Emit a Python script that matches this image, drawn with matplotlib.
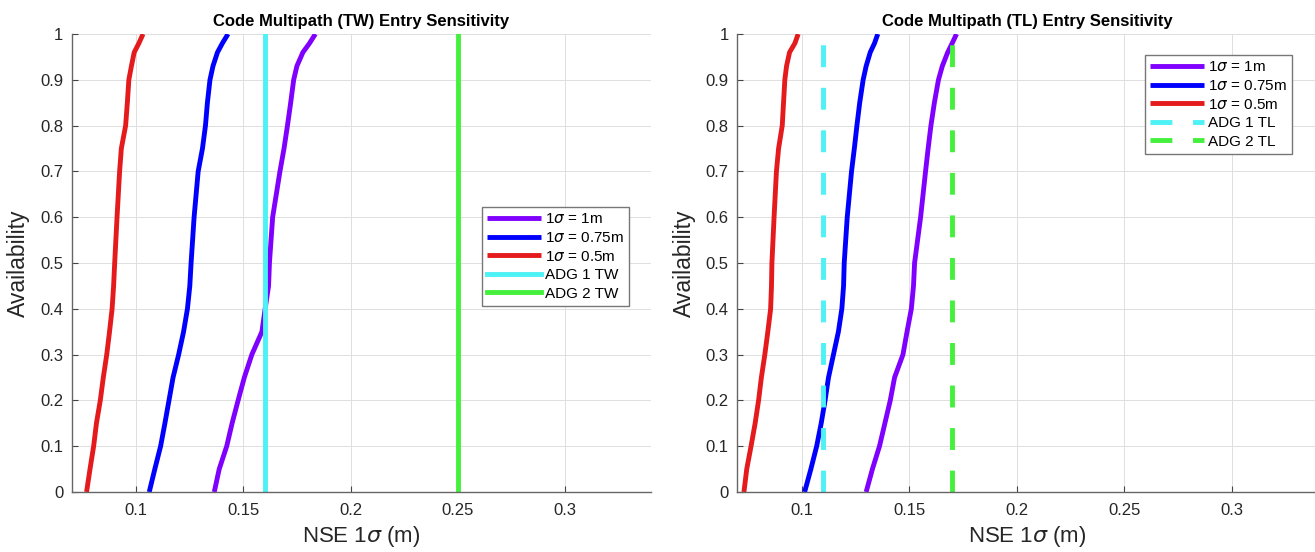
import numpy as np
import matplotlib
matplotlib.use("Agg")
import matplotlib.pyplot as plt

plt.rcParams['font.family'] = ['Liberation Sans', 'DejaVu Sans']
plt.rcParams['mathtext.fontset'] = 'dejavusans'

# availability levels shared by every CDF curve
avail = [0, 0.05, 0.1, 0.15, 0.2, 0.25, 0.3, 0.35, 0.4, 0.45, 0.5,
         0.6, 0.7, 0.75, 0.8, 0.85, 0.9, 0.93, 0.96, 0.98, 1.0]

# NSE 1-sigma (m), TW entry
tw_1m = [0.1365, 0.1388, 0.1423, 0.1448, 0.1476, 0.1505, 0.1540, 0.1587, 0.1602, 0.1618, 0.1622,
         0.1637, 0.1671, 0.1690, 0.1706, 0.1721, 0.1735, 0.1750, 0.1778, 0.1809, 0.1836]
tw_075m = [0.1062, 0.1088, 0.1115, 0.1135, 0.1154, 0.1173, 0.1199, 0.1222, 0.1240, 0.1251, 0.1257,
           0.1271, 0.1290, 0.1310, 0.1324, 0.1333, 0.1345, 0.1359, 0.1380, 0.1403, 0.1429]
tw_05m = [0.0770, 0.0786, 0.0803, 0.0816, 0.0834, 0.0848, 0.0864, 0.0877, 0.0889, 0.0896, 0.0901,
          0.0912, 0.0924, 0.0932, 0.0952, 0.0960, 0.0967, 0.0979, 0.0992, 0.1014, 0.1033]

# NSE 1-sigma (m), TL entry
tl_1m = [0.1300, 0.1329, 0.1362, 0.1387, 0.1412, 0.1432, 0.1471, 0.1490, 0.1510, 0.1520, 0.1525,
         0.1553, 0.1576, 0.1588, 0.1601, 0.1617, 0.1636, 0.1654, 0.1679, 0.1700, 0.1720]
tl_075m = [0.1014, 0.1043, 0.1070, 0.1091, 0.1109, 0.1125, 0.1148, 0.1171, 0.1187, 0.1195, 0.1198,
           0.1212, 0.1232, 0.1245, 0.1257, 0.1270, 0.1286, 0.1300, 0.1319, 0.1339, 0.1354]
tl_05m = [0.0732, 0.0745, 0.0765, 0.0784, 0.0800, 0.0813, 0.0829, 0.0843, 0.0856, 0.0860, 0.0862,
          0.0872, 0.0883, 0.0893, 0.0910, 0.0916, 0.0922, 0.0930, 0.0944, 0.0969, 0.0984]

# ADG thresholds
adg_tw = [0.16, 0.25]
adg_tl = [0.11, 0.17]

curve_labels = [r'1$\sigma$ = 1m', r'1$\sigma$ = 0.75m', r'1$\sigma$ = 0.5m']
xticks = [0.1, 0.15, 0.2, 0.25, 0.3]
xticklabels = ['0.1', '0.15', '0.2', '0.25', '0.3']
yticks = np.round(np.arange(0, 1.01, 0.1), 1)
yticklabels = ['0', '0.1', '0.2', '0.3', '0.4', '0.5', '0.6', '0.7', '0.8', '0.9', '1']

c_purple = '#7f00ff'
c_blue = '#0000ff'
c_red = '#e41a1c'
c_cyan = '#4cf2f5'
c_green = '#44f03c'
LW = 3.5


def panel(ax, title, curves, adg, adg_names, dashed, leg_anchor):
    for xs, col, lab in zip(curves, [c_purple, c_blue, c_red], curve_labels):
        ax.plot(xs, avail, color=col, lw=LW, label=lab, solid_capstyle='butt')
    ls = (0, (4.5, 4.25)) if dashed else '-'
    for xv, col, lab in zip(adg, [c_cyan, c_green], adg_names):
        ax.plot([xv, xv], [0, 1], color=col, lw=LW, ls=ls, label=lab)

    ax.set_xlim(0.07, 0.34)
    ax.set_ylim(0, 1)
    ax.set_xticks(xticks)
    ax.set_xticklabels(xticklabels)
    ax.set_yticks(yticks)
    ax.set_yticklabels(yticklabels)
    ax.grid(True, color='#dedede', lw=0.7)
    ax.set_axisbelow(True)
    for s in ['top', 'right']:
        ax.spines[s].set_visible(False)
    for s in ['left', 'bottom']:
        ax.spines[s].set_color('#666666')
        ax.spines[s].set_linewidth(1.0)
    ax.tick_params(direction='in', length=4, width=0.8, color='#444444',
                   labelsize=12, labelcolor='#262626')
    ax.tick_params(axis='x', pad=8)
    ax.tick_params(axis='y', pad=6)

    ax.set_title(title, fontsize=12, fontweight='bold', pad=6)
    ax.set_ylabel('Availability', fontsize=16.5, color='#262626')
    ax.yaxis.set_label_coords(-0.071, 0.5)
    ax.set_xlabel(r'NSE 1$\sigma$ (m)', fontsize=16, color='#262626')
    ax.xaxis.set_label_coords(0.5, -0.07)

    leg = ax.legend(loc='upper left', bbox_to_anchor=leg_anchor, borderaxespad=0,
                    fontsize=11, handlelength=3.5, handletextpad=0.3,
                    labelspacing=0.3, borderpad=0.35, fancybox=False,
                    framealpha=1, edgecolor='#777777')
    leg.get_frame().set_linewidth(1.0)


fig = plt.figure(figsize=(13.15, 5.52), dpi=100)
ax1 = fig.add_axes([0.0544, 0.1087, 0.4407, 0.8297])
ax2 = fig.add_axes([0.5605, 0.1087, 0.4418, 0.8297])

panel(ax1, 'Code Multipath (TW) Entry Sensitivity', [tw_1m, tw_075m, tw_05m],
      adg_tw, ['ADG 1 TW', 'ADG 2 TW'], False, (0.708, 0.622))
panel(ax2, 'Code Multipath (TL) Entry Sensitivity', [tl_1m, tl_075m, tl_05m],
      adg_tl, ['ADG 1 TL', 'ADG 2 TL'], True, (0.702, 0.954))

fig.savefig('out.png', dpi=100)
